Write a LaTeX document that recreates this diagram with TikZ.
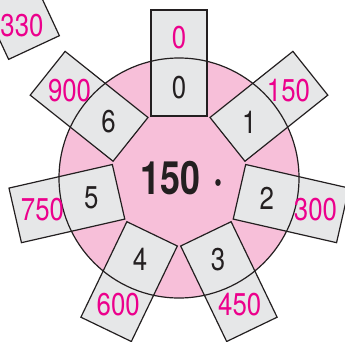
\documentclass[tikz,border=0pt]{standalone}
\usepackage{fontspec}
\newfontfamily\numfont{TeX Gyre Heros}[FakeStretch=0.82]
\newfontfamily\centerfont{TeX Gyre Heros}[FakeStretch=0.78]
\definecolor{pinkfill}{RGB}{247,191,217}
\definecolor{boxfill}{RGB}{230,231,232}
\definecolor{magentatext}{RGB}{236,0,140}
\definecolor{linecol}{RGB}{35,31,32}
\tikzset{
  spoke/.style={draw=linecol, fill=boxfill, line width=1.2pt, minimum width=56pt, minimum height=106pt, inner sep=0pt},
  innernum/.style={font=\numfont\fontsize{31.5}{31.5}\selectfont, text=linecol, inner sep=0pt},
  outernum/.style={font=\numfont\fontsize{31.5}{31.5}\selectfont, text=magentatext, inner sep=0pt},
  centernum/.style={font=\centerfont\bfseries\fontsize{46}{46}\selectfont, text=linecol, inner sep=0pt},
  rim/.style={draw=linecol, line width=1.2pt}
}
\begin{document}
\begin{tikzpicture}[x=1pt,y=1pt]
\useasboundingbox (0,0) rectangle (345,341);
\clip (0,0) rectangle (345,341);
\coordinate (c) at (179,163);
\fill[pinkfill] (c) circle (120);
% partial box from neighbouring figure
\node[spoke, rotate=25] (xb) at (11.6,341.5) {};
\node[outernum] (xv) at (22,315.5) {330};
\foreach \k in {0,...,6} {
  \pgfmathsetmacro\ang{90-\k*360/7}
  \pgfmathsetmacro\rot{-\k*360/7}
  \node[spoke, rotate=\rot] (b\k) at ([shift={(\ang:115)}]c) {};
}
\draw[rim] (c) circle (120);
\foreach \k in {0,...,6} {
  \pgfmathsetmacro\ang{90-\k*360/7}
  \pgfmathtruncatemacro\val{150*\k}
  \node[innernum] (d\k) at ([shift={(\ang:90)}]c) {\k};
  \node[outernum] (v\k) at ([shift={(\ang:140)}]c) {\val};
}
\node[centernum] (m) at ([shift={(3,0)}]c) {150\hspace{4pt} ·};
\end{tikzpicture}
\end{document}
